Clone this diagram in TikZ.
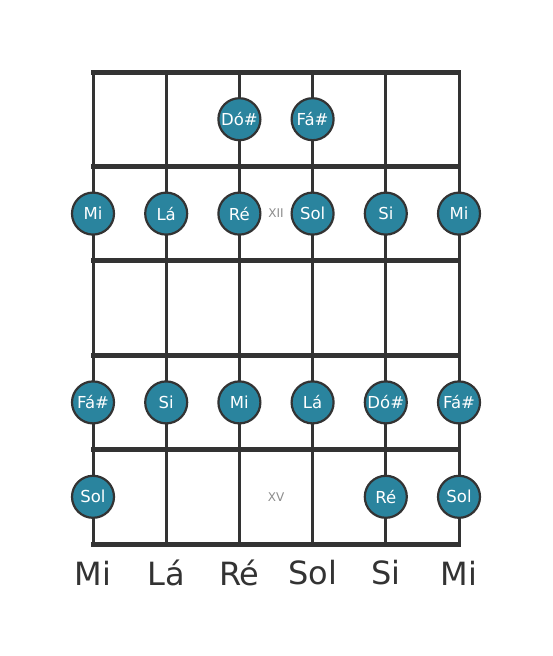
\documentclass[tikz,border=0pt]{standalone}
\usepackage{fontspec}
\setmainfont{DejaVu Sans}
\definecolor{fretline}{HTML}{333333}
\definecolor{notefill}{HTML}{2A849E}
\tikzset{
  note/.style={circle,draw=fretline,line width=2.2pt,fill=notefill,minimum size=42pt,inner sep=0pt,
    text=white,font=\fontsize{16.5}{17}\selectfont},
  fretno/.style={text=gray!90,font=\fontsize{12}{13}\selectfont},
  openstring/.style={text=fretline,font=\fontsize{32}{34}\selectfont}
}
\begin{document}
\begin{tikzpicture}[x=1pt,y=-1pt]
                \useasboundingbox[fill=white] (0,0) rectangle (553,656);
                % strings
                \foreach \s/\x in {1/93,2/166.2,3/239.4,4/312.6,5/385.8,6/459}
                    \draw[fretline,line width=3pt] (\x,72) -- (\x,544);
                % frets
                \foreach \y in {72,166.4,260.8,355.2,449.6,544}
                    \draw[fretline,line width=5pt] (91,\y) -- (461,\y);
                \node[fretno] (xii) at (276,213.6) {XII};
                \node[fretno] (xv) at (276,497) {XV};
                % fret XI
                \node[note] (c3) at (239.4,119.2) {Dó\#};
                \node[note] (f4) at (312.6,119.2) {Fá\#};
                % fret XII
                \node[note] (e1) at (93,213.6) {Mi};
                \node[note] (a2) at (166.2,213.6) {Lá};
                \node[note] (d3) at (239.4,213.6) {Ré};
                \node[note] (g4) at (312.6,213.6) {Sol};
                \node[note] (b5) at (385.8,213.6) {Si};
                \node[note] (e6) at (459,213.6) {Mi};
                % fret XIV
                \node[note] (fs1) at (93,402.4) {Fá\#};
                \node[note] (b2) at (166.2,402.4) {Si};
                \node[note] (e3) at (239.4,402.4) {Mi};
                \node[note] (a4) at (312.6,402.4) {Lá};
                \node[note] (cs5) at (385.8,402.4) {Dó\#};
                \node[note] (fs6) at (459,402.4) {Fá\#};
                % fret XV
                \node[note] (g1) at (93,496.8) {Sol};
                \node[note] (d5) at (385.8,496.8) {Ré};
                \node[note] (g6) at (459,496.8) {Sol};
                % open strings
                \foreach \x/\n in {93/Mi,166.2/Lá,239.4/Ré,312.6/Sol,385.8/Si,459/Mi}
                    \node[openstring] (o\x) at (\x,573) {\n};
            \end{tikzpicture}
\end{document}
